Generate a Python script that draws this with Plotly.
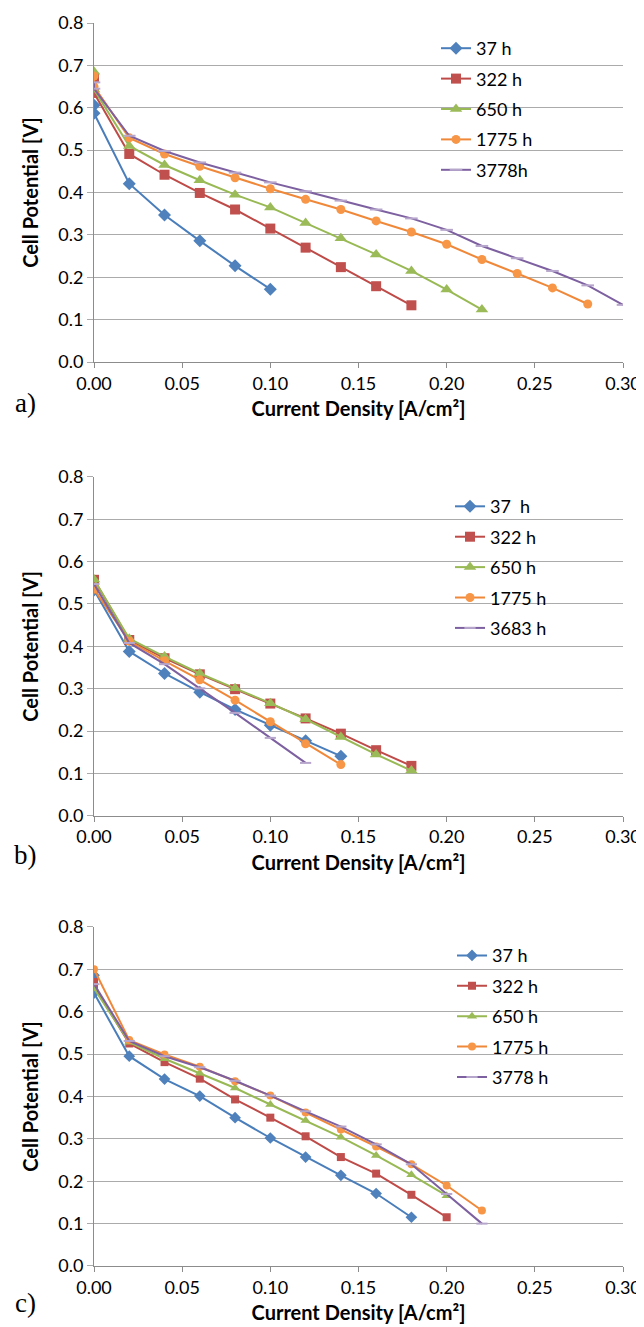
import plotly.graph_objects as go

# ---------------- data ----------------
series_names_a = ["37 h", "322 h", "650 h", "1775 h", "3778h"]
series_names_b = ["37\u00a0 h", "322 h", "650 h", "1775 h", "3683 h"]
series_names_c = ["37 h", "322 h", "650 h", "1775 h", "3778 h"]

# panel a
a_37_x = [0, 0, 0.02, 0.04, 0.06, 0.08, 0.10]
a_37_y = [0.606, 0.587, 0.421, 0.347, 0.286, 0.227, 0.172]
a_322_x = [0, 0, 0.02, 0.04, 0.06, 0.08, 0.10, 0.12, 0.14, 0.16, 0.18]
a_322_y = [0.670, 0.635, 0.491, 0.442, 0.399, 0.360, 0.315, 0.270, 0.224, 0.179, 0.134]
a_650_x = [0, 0, 0.02, 0.04, 0.06, 0.08, 0.10, 0.12, 0.14, 0.16, 0.18, 0.20, 0.22]
a_650_y = [0.685, 0.643, 0.510, 0.465, 0.429, 0.395, 0.365, 0.328, 0.292, 0.254, 0.215, 0.171, 0.124]
a_1775_x = [0, 0, 0.02, 0.04, 0.06, 0.08, 0.10, 0.12, 0.14, 0.16, 0.18, 0.20, 0.22, 0.24, 0.26, 0.28]
a_1775_y = [0.675, 0.650, 0.529, 0.491, 0.462, 0.435, 0.409, 0.384, 0.360, 0.333, 0.307, 0.278,
            0.242, 0.209, 0.175, 0.137]
a_3778_x = [0, 0, 0.02, 0.04, 0.06, 0.08, 0.10, 0.12, 0.14, 0.16, 0.18, 0.20, 0.22, 0.24, 0.26,
            0.28, 0.30]
a_3778_y = [0.660, 0.645, 0.534, 0.498, 0.471, 0.447, 0.424, 0.403, 0.381, 0.360, 0.339, 0.312,
            0.274, 0.245, 0.215, 0.181, 0.135]

# panel b
b_37_x = [0, 0.02, 0.04, 0.06, 0.08, 0.10, 0.12, 0.14]
b_37_y = [0.533, 0.388, 0.336, 0.292, 0.251, 0.214, 0.177, 0.141]
b_322_x = [0, 0.02, 0.04, 0.06, 0.08, 0.10, 0.12, 0.14, 0.16, 0.18]
b_322_y = [0.557, 0.415, 0.372, 0.334, 0.299, 0.265, 0.230, 0.194, 0.155, 0.118]
b_650_x = [0, 0.02, 0.04, 0.06, 0.08, 0.10, 0.12, 0.14, 0.16, 0.18]
b_650_y = [0.558, 0.418, 0.376, 0.336, 0.301, 0.266, 0.228, 0.186, 0.145, 0.107]
b_1775_x = [0, 0.02, 0.04, 0.06, 0.08, 0.10, 0.12, 0.14]
b_1775_y = [0.535, 0.412, 0.366, 0.321, 0.273, 0.222, 0.170, 0.121]
b_3683_x = [0, 0.02, 0.04, 0.06, 0.08, 0.10, 0.12]
b_3683_y = [0.547, 0.408, 0.358, 0.301, 0.243, 0.184, 0.125]

# panel c
c_37_x = [0, 0, 0.02, 0.04, 0.06, 0.08, 0.10, 0.12, 0.14, 0.16, 0.18]
c_37_y = [0.686, 0.644, 0.495, 0.441, 0.401, 0.350, 0.302, 0.257, 0.214, 0.171, 0.115]
c_322_x = [0, 0, 0.02, 0.04, 0.06, 0.08, 0.10, 0.12, 0.14, 0.16, 0.18, 0.20]
c_322_y = [0.670, 0.660, 0.525, 0.481, 0.442, 0.393, 0.350, 0.306, 0.257, 0.218, 0.168, 0.115]
c_650_x = [0, 0.02, 0.04, 0.06, 0.08, 0.10, 0.12, 0.14, 0.16, 0.18, 0.20]
c_650_y = [0.655, 0.528, 0.489, 0.455, 0.420, 0.381, 0.343, 0.304, 0.261, 0.215, 0.166]
c_1775_x = [0, 0.02, 0.04, 0.06, 0.08, 0.10, 0.12, 0.14, 0.16, 0.18, 0.20, 0.22]
c_1775_y = [0.700, 0.533, 0.499, 0.470, 0.436, 0.402, 0.362, 0.322, 0.282, 0.240, 0.190, 0.131]
c_3778_x = [0, 0.02, 0.04, 0.06, 0.08, 0.10, 0.12, 0.14, 0.16, 0.18, 0.20, 0.22]
c_3778_y = [0.665, 0.531, 0.495, 0.469, 0.437, 0.402, 0.365, 0.329, 0.287, 0.240, 0.170, 0.100]

panel_labels = ["a)", "b)", "c)"]
x_title = "Current Density [A/cm\u00b2]"
y_title = "Cell Potential [V]"

# ---------------- styling ----------------
OFF = 8  # page body margin: figure origin sits at (8, 8) in the page
W, H = 644 - OFF, 1327 - OFF
PLOT_LEFT, PLOT_RIGHT = 94 - OFF, 623 - OFF
PLOT_BOTTOM = 1265.7 - OFF
L = PLOT_LEFT
R = W - PLOT_RIGHT
T = 23 - OFF
B = H - PLOT_BOTTOM
PW = W - L - R
PH = H - T - B
PANEL_TOPS = [23 - OFF, 476.7 - OFF, 926.7 - OFF]
PANEL_H = 339

line_colors = ["#4A7EBB", "#BE4B48", "#98B954", "#F0883A", "#7D60A0"]
marker_colors = ["#4F81BD", "#C0504D", "#9BBB59", "#F79646", "#B7A6CC"]
symbols = ["diamond", "square", "triangle-up", "circle", "line-ew"]
GRID = "#ABABAB"
AXIS = "#8C8C8C"
FONT = "Lato"


def py2paper(py):
    return (H - B - py) / PH


def px2paper(px):
    return (px - L) / PW


panels = [
    (series_names_a, [(a_37_x, a_37_y), (a_322_x, a_322_y), (a_650_x, a_650_y),
                      (a_1775_x, a_1775_y), (a_3778_x, a_3778_y)], [10, 10, 11, 9, 9]),
    (series_names_b, [(b_37_x, b_37_y), (b_322_x, b_322_y), (b_650_x, b_650_y),
                      (b_1775_x, b_1775_y), (b_3683_x, b_3683_y)], [10, 10, 11, 9, 8]),
    (series_names_c, [(c_37_x, c_37_y), (c_322_x, c_322_y), (c_650_x, c_650_y),
                      (c_1775_x, c_1775_y), (c_3778_x, c_3778_y)], [9, 8, 9, 8, 8]),
]
legend_tops = [30 - OFF, 488 - OFF, 937 - OFF]
legend_lefts = [436 - OFF, 450 - OFF, 452 - OFF]
label_ys = [403 - OFF, 855 - OFF, 1303 - OFF]

fig = go.Figure()
layout = dict(
    width=W, height=H,
    margin=dict(l=L, r=R, t=T, b=B, autoexpand=False),
    paper_bgcolor="white", plot_bgcolor="white",
    font=dict(family=FONT, size=18, color="black"),
    showlegend=True,
    annotations=[],
)

for p, (names, data, msizes) in enumerate(panels):
    suffix = "" if p == 0 else str(p + 1)
    legname = "legend" + suffix
    for i, (xs, ys) in enumerate(data):
        if symbols[i] == "line-ew":
            marker = dict(symbol="line-ew", size=msizes[i],
                          line=dict(width=2, color=marker_colors[i]))
        else:
            marker = dict(symbol=symbols[i], size=msizes[i], color=marker_colors[i],
                          line=dict(width=0))
        fig.add_trace(go.Scatter(
            x=xs, y=ys, name=names[i], mode="lines+markers",
            line=dict(color=line_colors[i], width=2),
            marker=marker,
            xaxis="x" + suffix, yaxis="y" + suffix,
            legend=legname, legendgroup=f"p{p}s{i}",
        ))
    top = PANEL_TOPS[p]
    y0 = py2paper(top + PANEL_H)
    y1 = py2paper(top)
    layout["xaxis" + suffix] = dict(
        domain=[0, 1], anchor="y" + suffix, range=[0, 0.30],
        tickvals=[0, 0.05, 0.10, 0.15, 0.20, 0.25, 0.30], tickformat=".2f",
        showgrid=False, showline=True, linecolor=AXIS, linewidth=1,
        ticks="outside", ticklen=5, tickcolor=AXIS, zeroline=False,
        tickfont=dict(family=FONT, size=18),
        title=dict(text="<b>" + x_title + "</b>", standoff=9,
                   font=dict(family=FONT, size=20)),
    )
    layout["yaxis" + suffix] = dict(
        domain=[y0, y1], anchor="x" + suffix, range=[0, 0.8],
        tickvals=[0, 0.1, 0.2, 0.3, 0.4, 0.5, 0.6, 0.7, 0.8], tickformat=".1f",
        showgrid=True, gridcolor=GRID, gridwidth=1,
        showline=True, linecolor=AXIS, linewidth=1,
        ticks="outside", ticklen=6, tickcolor=GRID, zeroline=False,
        tickfont=dict(family=FONT, size=18),
        title=dict(text="<b>" + y_title + "</b>", standoff=14,
                   font=dict(family=FONT, size=20)),
    )
    layout[legname] = dict(
        xref="paper", yref="paper",
        x=px2paper(legend_lefts[p]), y=py2paper(legend_tops[p]),
        xanchor="left", yanchor="top",
        font=dict(family=FONT, size=18), tracegroupgap=4,
        bgcolor="rgba(0,0,0,0)", borderwidth=0,
    )
    layout["annotations"].append(dict(
        text=panel_labels[p], xref="paper", yref="paper",
        x=px2paper(25 - OFF), y=py2paper(label_ys[p]), xanchor="center", yanchor="middle",
        showarrow=False, font=dict(family="Liberation Serif", size=27, color="black"),
    ))

fig.update_layout(**layout)
fig.write_html("out.html")
